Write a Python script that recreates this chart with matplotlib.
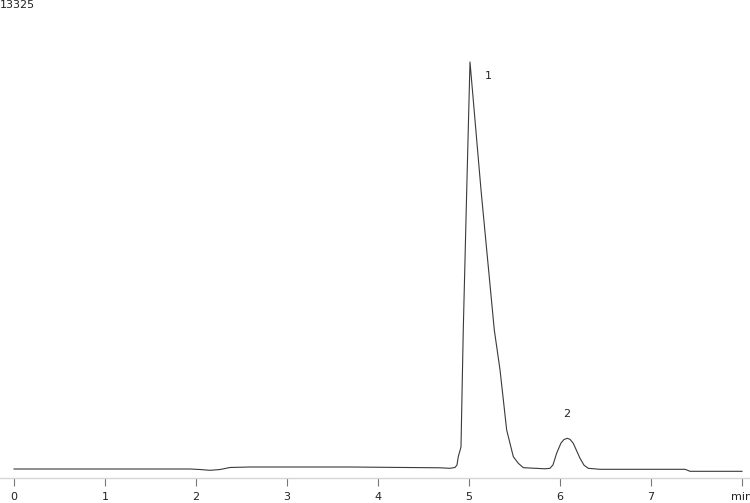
import matplotlib
matplotlib.use('Agg')
import matplotlib.pyplot as plt

# chromatogram trace (time in min, signal)
time = [0.000, 1.934, 2.044, 2.154, 2.264, 2.374, 2.593, 3.692, 4.681, 4.791,
        4.846, 4.868, 4.882, 4.912, 4.937, 4.975, 5.011, 5.132, 5.278, 5.341,
        5.414, 5.487, 5.542, 5.597, 5.835, 5.890, 5.923, 5.964, 6.011, 6.044,
        6.080, 6.110, 6.146, 6.220, 6.264, 6.311, 6.440, 7.374, 7.429, 8.000]
signal = [0, 0, -15, -38, -15, 44, 58, 58, 35, 20,
          44, 116, 357, 638, 4031, 8091, 11803, 8091, 4031, 2871,
          1131, 357, 165, 38, 6, 20, 120, 464, 754, 855,
          890, 860, 745, 310, 110, 20, -9, -9, -67, -67]

# peak labels
peak_names = ['1', '2']
peak_time = [5.209, 6.077]
peak_label_y = [11397, 1595]

ticks = [0, 1, 2, 3, 4, 5, 6, 7, 8]
tick_labels = ['0', '1', '2', '3', '4', '5', '6', '7', 'min']
ymax = 13325

fig = plt.figure(figsize=(7.5, 5.03), dpi=100)
ax = fig.add_axes([0.0, 25 / 503., 1.0, (478 - 9.5) / 503.])

ax.plot(time, signal, color='#3a3a3a', lw=0.8)

for name, t, y in zip(peak_names, peak_time, peak_label_y):
    ax.text(t, y, name, fontsize=8, ha='center', va='center', color='#222222')

ax.set_xlim(-14 / 91., 736 / 91.)
ax.set_ylim(-261, ymax)

for s in ['top', 'left', 'right']:
    ax.spines[s].set_visible(False)
ax.spines['bottom'].set_color('#d6d6d6')
ax.spines['bottom'].set_linewidth(1.0)

ax.set_yticks([])
ax.set_xticks(ticks)
ax.set_xticklabels(tick_labels)
ax.tick_params(axis='x', direction='out', length=6, width=0.8,
               color='#777777', labelsize=8, pad=4, labelcolor='#222222')

fig.text(0.0, 1 - 5.5 / 503., str(ymax), fontsize=8, ha='left', va='center',
         color='#222222')

plt.savefig('out.png', dpi=100)
